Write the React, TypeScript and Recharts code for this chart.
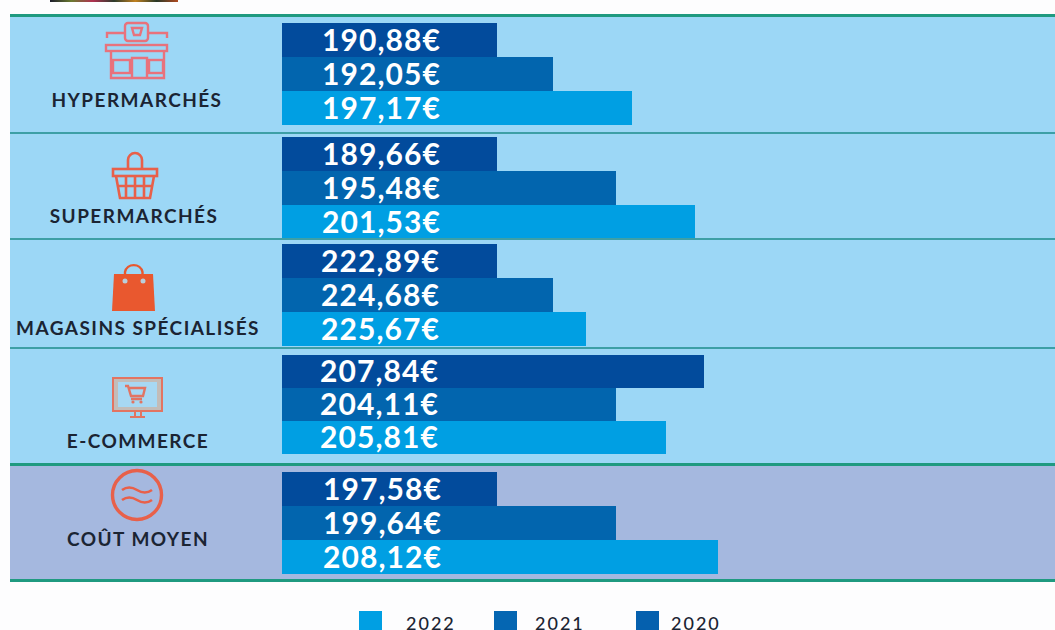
import { BarChart, Bar, XAxis, YAxis, LabelList, Legend } from 'recharts';

const categories = ['HYPERMARCHÉS', 'SUPERMARCHÉS', 'MAGASINS SPÉCIALISÉS', 'E-COMMERCE', 'COÛT MOYEN'];

// the printed prices
const labels2020 = ['190,88€', '189,66€', '222,89€', '207,84€', '197,58€'];
const labels2021 = ['192,05€', '195,48€', '224,68€', '204,11€', '199,64€'];
const labels2022 = ['197,17€', '201,53€', '225,67€', '205,81€', '208,12€'];

// bar lengths as drawn in the original, which are not to scale with the prices
const lengths2020 = [215, 215, 215, 422, 215];
const lengths2021 = [271, 334, 271, 334, 334];
const lengths2022 = [350, 413, 304, 384, 436];

const legendYears = ['2022', '2021', '2020'];
const legendColors = ['#009fe3', '#0566b2', '#0560ae'];
const legendX = [359, 494, 636];
const legendTextX = [406, 535, 671];

const COLORS = { y2020: '#024b9c', y2021: '#0265ae', y2022: '#009fe3' };

// top, bottom of each band, then the gap above and below the bars, and the label baseline
const ROWS = [
  { top: 17, bottom: 132, barTop: 23, barBottom: 124, baseline: 107, cx: 137, labelOffset: 40, bg: '#9cd7f6' },
  { top: 134, bottom: 238, barTop: 137, barBottom: 238, baseline: 223, cx: 134, labelOffset: 40, bg: '#9cd7f6' },
  { top: 239, bottom: 347, barTop: 244, barBottom: 345, baseline: 335, cx: 138, labelOffset: 39, bg: '#9cd7f6' },
  { top: 348, bottom: 464, barTop: 355, barBottom: 455, baseline: 448, cx: 138, labelOffset: 38, bg: '#9cd7f6' },
  { top: 466, bottom: 579, barTop: 472, barBottom: 573, baseline: 546, cx: 138, labelOffset: 41, bg: '#a5b8df' },
];

const CHART_LEFT = 10;
const AXIS_WIDTH = 272;
const PLOT_WIDTH = 773;

function Icon({ index }: { index: number }) {
  if (index === 0) {
    const c = '#e8727c';
    return (
      <g fill="none" stroke={c} strokeWidth={2.4}>
        <rect x={125} y={23} width={23} height={18} rx={3} />
        <path d="M132 28h10l-2 7h-6zM125 33h-18v5M148 33h19v5" />
        <rect x={106} y={45} width={61} height={6} />
        <path d="M111 51v27h53v-27" />
        <rect x={113} y={60} width={17} height={13} />
        <rect x={149} y={60} width={14} height={13} />
        <path d="M132 78V58h15v20" />
      </g>
    );
  }
  if (index === 1) {
    const c = '#e8604a';
    return (
      <g fill="none" stroke={c} strokeWidth={2.6}>
        <path d="M128 170v-10a7 7 0 0 1 14 0v10" />
        <rect x={113} y={169} width={44} height={7} />
        <path d="M116 176l4 22h30l4-22M117 186h36M126 176v22M135 176v22M144 176v22" />
      </g>
    );
  }
  if (index === 2) {
    const c = '#e9582f';
    return (
      <g>
        <path d="M125 276v-4a9 9 0 0 1 17.5 0v4" fill="none" stroke={c} strokeWidth={2.4} />
        <path d="M114 274h39l2 37h-43z" fill={c} />
        <circle cx={125} cy={281} r={2.5} fill="#b9cfdc" />
        <circle cx={143} cy={281} r={2.5} fill="#b9cfdc" />
      </g>
    );
  }
  if (index === 3) {
    const c = '#e27462';
    return (
      <g>
        <rect x={113} y={378} width={49} height={33} fill="#c3bcb8" stroke={c} strokeWidth={2} />
        <rect x={118} y={382} width={39} height={25} fill="#a7d8f3" stroke="none" />
        <path d="M128 388h17l-2 8h-12l-3-10h-3M131 399h11" fill="none" stroke={c} strokeWidth={2.4} />
        <circle cx={133} cy={402} r={1.6} fill={c} />
        <circle cx={141} cy={402} r={1.6} fill={c} />
        <path d="M130 417h15M135 411v5M141 411v5" fill="none" stroke={c} strokeWidth={2} />
      </g>
    );
  }
  const c = '#e8604a';
  return (
    <g fill="none" stroke={c}>
      <circle cx={137} cy={495} r={24.5} strokeWidth={3.4} />
      <path d="M122 490q7-5 15 0t15 0M122 500q7-5 15 0t15 0" strokeWidth={2.6} />
    </g>
  );
}

function CategoryTick({ index }: { index: number }) {
  return (text: any) => {
    const row = ROWS[index];
    return (
      <g transform={`translate(${-CHART_LEFT},${-row.top})`}>
        <Icon index={index} />
        <text
          x={row.cx}
          y={row.baseline}
          textAnchor="middle"
          fontFamily="Lato"
          fontWeight={700}
          fontSize={19}
          letterSpacing={1.45}
          fill="#1b2433"
        >
          {text.payload.value}
        </text>
      </g>
    );
  };
}

function YearLegend() {
  return (
    <div style={{ position: 'relative', width: 1055, height: 19 }}>
      {legendYears.map((year, i) => (
        <div key={year}>
          <div style={{ position: 'absolute', left: legendX[i], top: 0, width: 23, height: 19, background: legendColors[i] }} />
          <span
            style={{
              position: 'absolute',
              left: legendTextX[i],
              top: 5,
              fontFamily: 'Lato',
              fontWeight: 500,
              fontSize: 18,
              letterSpacing: 2,
              lineHeight: '15px',
              color: '#1b2433',
            }}
          >
            {year}
          </span>
        </div>
      ))}
    </div>
  );
}

const priceLabel = { fontFamily: 'Lato', fontWeight: 700, fontSize: 30, letterSpacing: 1.1, fill: '#ffffff' };

function CostRow({ index }: { index: number }) {
  const row = ROWS[index];
  const isLast = index === ROWS.length - 1;
  const height = isLast ? 630 - row.top : row.bottom - row.top;
  const data = [
    {
      category: categories[index],
      v2020: lengths2020[index],
      v2021: lengths2021[index],
      v2022: lengths2022[index],
      label2020: labels2020[index],
      label2021: labels2021[index],
      label2022: labels2022[index],
    },
  ];
  return (
    <div style={{ position: 'absolute', left: CHART_LEFT, top: row.top }}>
      <BarChart
        width={1055 - CHART_LEFT}
        height={height}
        data={data}
        layout="vertical"
        barCategoryGap={0}
        barGap={0}
        margin={{ top: row.barTop - row.top, bottom: row.top + height - row.barBottom, left: 0, right: 0 }}
        style={{ overflow: 'visible' }}
      >
        <XAxis type="number" domain={[0, PLOT_WIDTH]} hide />
        <YAxis
          type="category"
          dataKey="category"
          width={AXIS_WIDTH}
          axisLine={false}
          tickLine={false}
          interval={0}
          tick={CategoryTick({ index })}
        />
        <Bar dataKey="v2020" fill={COLORS.y2020} isAnimationActive={false}>
          <LabelList dataKey="label2020" position="insideLeft" offset={row.labelOffset} style={priceLabel} />
        </Bar>
        <Bar dataKey="v2021" fill={COLORS.y2021} isAnimationActive={false}>
          <LabelList dataKey="label2021" position="insideLeft" offset={row.labelOffset} style={priceLabel} />
        </Bar>
        <Bar dataKey="v2022" fill={COLORS.y2022} isAnimationActive={false}>
          <LabelList dataKey="label2022" position="insideLeft" offset={row.labelOffset} style={priceLabel} />
        </Bar>
        {isLast && (
          <Legend
            layout="horizontal"
            verticalAlign="middle"
            content={<YearLegend />}
            wrapperStyle={{ left: -CHART_LEFT, top: 611 - row.top, width: 1055, height: 19, margin: 0 }}
          />
        )}
      </BarChart>
    </div>
  );
}

export default function App() {
  return (
    <div style={{ position: 'absolute', left: 0, top: 0, width: 1055, height: 630, overflow: 'hidden', background: '#fdfdfe' }}>
      <div
        style={{
          position: 'absolute',
          left: 50,
          top: 0,
          width: 128,
          height: 2,
          background: 'linear-gradient(90deg,#1c1c2c,#6a7a30,#b03050,#2c3a2c,#c08020,#283828,#b04a20)',
        }}
      />
      {ROWS.map((row) => (
        <div key={row.top} style={{ position: 'absolute', left: CHART_LEFT, right: 0, top: row.top, height: row.bottom - row.top, background: row.bg }} />
      ))}
      <div style={{ position: 'absolute', left: CHART_LEFT, right: 0, top: 14, height: 3, background: '#1f9a80' }} />
      <div style={{ position: 'absolute', left: CHART_LEFT, right: 0, top: 132, height: 2, background: '#3d9fa6' }} />
      <div style={{ position: 'absolute', left: CHART_LEFT, right: 0, top: 238, height: 1.5, background: '#3d9fa6' }} />
      <div style={{ position: 'absolute', left: CHART_LEFT, right: 0, top: 347, height: 1.5, background: '#3d9fa6' }} />
      <div style={{ position: 'absolute', left: CHART_LEFT, right: 0, top: 463, height: 3, background: '#1f9a80' }} />
      <div style={{ position: 'absolute', left: CHART_LEFT, right: 0, top: 579, height: 3, background: '#1f9a80' }} />
      {categories.map((name, i) => (
        <CostRow key={name} index={i} />
      ))}
    </div>
  );
}
